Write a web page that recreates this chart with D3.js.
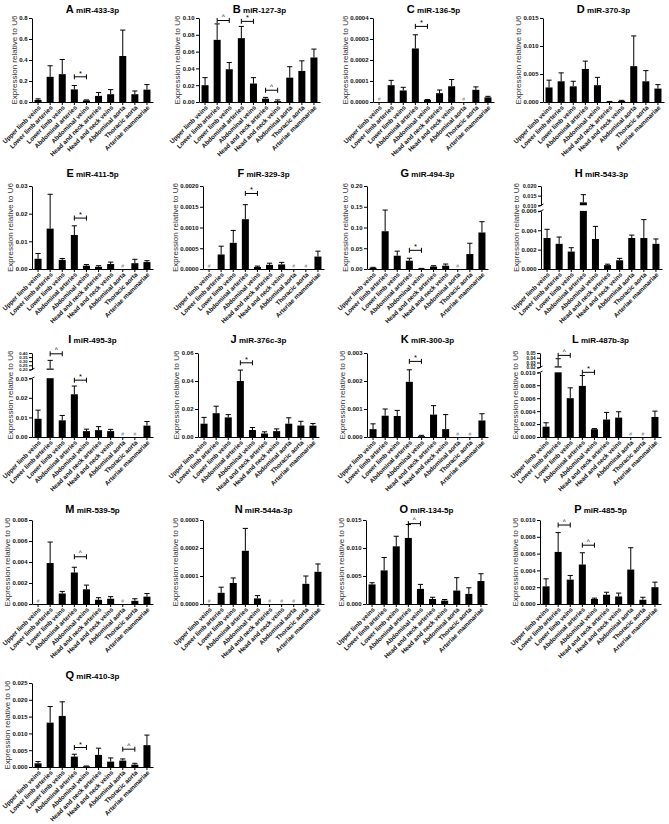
<!DOCTYPE html>
<html><head><meta charset="utf-8">
<script src="https://cdn.jsdelivr.net/npm/d3@7"></script>
<style>body{margin:0;background:#fff;} svg{display:block;}</style>
</head><body><svg id="c" width="669" height="824"></svg>
<script>
// ---------- DATA ----------
const categories = ["Upper limb veins","Lower limb arteries","Lower limb veins","Abdominal arteries","Abdominal veins","Head and neck arteries","Head and neck veins","Abdominal aorta","Thoracic aorta","Arteriae mammariae"];
const letters = ["A","B","C","D","E","F","G","H","I","J","K","L","M","N","O","P","Q"];
const mirnas = ["miR-433-3p","miR-127-3p","miR-136-5p","miR-370-3p","miR-411-5p","miR-329-3p","miR-494-3p","miR-543-3p","miR-495-3p","miR-376c-3p","miR-300-3p","miR-487b-3p","miR-539-5p","miR-544a-3p","miR-134-5p","miR-485-5p","miR-410-3p"];

// null = not detected (#)
const meanA = [0.02,0.24,0.265,0.12,0.015,0.058,0.074,0.438,0.074,0.118];
const errA  = [0.03,0.345,0.405,0.157,0.02,0.09,0.118,0.685,0.105,0.166];
const ticksA = [0,0.2,0.4,0.6,0.8];
const sigA = [[3,4,0.24,"*"]];

const meanB = [0.020,0.074,0.039,0.076,0.022,0.004,0.001,0.029,0.037,0.053];
const errB  = [0.029,0.093,0.047,0.090,0.029,0.0055,0.0025,0.042,0.049,0.063];
const ticksB = [0,0.02,0.04,0.06,0.08,0.10];
const sigB = [[1,2,0.097,"^"],[3,4,0.096,"*"],[5,6,0.014,"^"]];

const meanC = [null,0.00008,0.000055,0.000255,0.00001,0.000042,0.000075,null,0.000058,0.000022];
const errC  = [null,0.000103,0.00007,0.00032,0.000012,0.000057,0.000107,null,0.000072,0.000027];
const ticksC = [0,0.0001,0.0002,0.0003,0.0004];
const sigC = [[3,4,0.00036,"*"]];

const meanD = [0.0026,0.0037,0.0028,0.0059,0.0030,0.00005,0.0002,0.0064,0.0037,0.0024];
const errD  = [0.0039,0.0052,0.0037,0.0073,0.0044,0.0001,0.0003,0.0118,0.0056,0.0031];
const ticksD = [0,0.005,0.010,0.015];
const sigD = [];

const meanE = [0.0037,0.0146,0.0033,0.0123,0.0012,0.0008,0.0018,null,0.0021,0.0025];
const errE  = [0.0056,0.027,0.0038,0.0156,0.0016,0.0012,0.0025,null,0.0035,0.003];
const ticksE = [0,0.01,0.02,0.03];
const sigE = [[3,4,0.0184,"*"]];

const meanF = [null,0.00035,0.00063,0.0012,0.00005,0.0001,0.00011,null,null,0.0003];
const errF  = [null,0.00055,0.00093,0.00155,0.00007,0.00014,0.00016,null,null,0.00043];
const ticksF = [0,0.0005,0.0010,0.0015,0.0020];
const sigF = [[3,4,0.00182,"*"]];

const meanG = [0.003,0.091,0.032,0.020,0.001,0.006,0.008,null,0.036,0.088];
const errG  = [0.004,0.142,0.043,0.026,0.0015,0.008,0.012,null,0.062,0.114];
const ticksG = [0,0.05,0.10,0.15,0.20];
const sigG = [[3,4,0.045,"*"]];

const meanH = [0.0032,0.0026,0.0018,0.0115,0.0031,0.0004,0.0009,0.0032,0.0032,0.0026];
const errH  = [0.0041,0.0033,0.0022,0.0155,0.0044,0.0005,0.0011,0.0035,0.0051,0.0031];
const ticksH = [0,0.002,0.004,0.006];
const ticksHUpper = [0.010,0.015,0.020];
const breakH = [0.006,0.010,0.020];
const sigH = [];

const meanI = [0.0093,0.21,0.0085,0.0218,0.003,0.0035,0.003,null,null,0.0058];
const errI  = [0.0137,0.31,0.011,0.026,0.004,0.0053,0.0039,null,null,0.0079];
const ticksI = [0,0.01,0.02,0.03];
const ticksIUpper = [0.20,0.25,0.30,0.35,0.40];
const breakI = [0.03,0.20,0.40];
const sigI = [[1,2,0.39,"^"],[3,4,0.029,"*"]];

const meanJ = [0.0095,0.017,0.014,0.040,0.005,0.0025,0.0042,0.0095,0.0082,0.0081];
const errJ  = [0.014,0.022,0.016,0.0478,0.0068,0.0037,0.0058,0.0137,0.0112,0.0096];
const ticksJ = [0,0.02,0.04,0.06];
const sigJ = [[3,4,0.053,"*"]];

const meanK = [0.00028,0.00076,0.00075,0.00197,0.00003,0.0008,0.00028,null,null,0.00059];
const errK  = [0.00047,0.001,0.00095,0.0024,0.00006,0.00112,0.0008,null,null,0.00083];
const ticksK = [0,0.001,0.002,0.003];
const sigK = [[3,4,0.0027,"*"]];

const meanL = [0.0016,0.022,0.0060,0.0079,0.0012,0.0027,0.0030,null,null,0.0031];
const errL  = [0.0022,0.038,0.0076,0.0095,0.0013,0.0038,0.0039,null,null,0.0040];
const ticksL = [0,0.002,0.004,0.006,0.008,0.010];
const ticksLUpper = [0.02,0.03,0.04,0.05];
const breakL = [0.010,0.02,0.05];
const sigL = [[1,2,0.045,"^"],[3,4,0.0100,"*"]];

const meanM = [null,0.0039,0.001,0.003,0.0014,0.0004,0.0005,null,0.0003,0.0007];
const errM  = [null,0.0059,0.0012,0.0035,0.0018,0.0006,0.0007,null,0.0005,0.001];
const ticksM = [0,0.002,0.004,0.006,0.008];
const sigM = [[3,4,0.0045,"^"]];

const meanN = [null,0.00004,0.000075,0.00019,0.00002,null,null,null,0.000072,0.000115];
const errN  = [null,0.00006,0.000093,0.00027,0.00003,null,null,null,0.0001,0.000143];
const ticksN = [0,0.0001,0.0002,0.0003];
const sigN = [];

const meanO = [0.0035,0.006,0.0103,0.0118,0.0027,0.0009,0.0006,0.0024,0.0018,0.0041];
const errO  = [0.0038,0.0083,0.0121,0.0142,0.0035,0.0012,0.0008,0.0047,0.0029,0.0054];
const ticksO = [0,0.005,0.010,0.015];
const sigO = [[3,4,0.01435,"^"]];

const meanP = [0.0021,0.0062,0.0029,0.0047,0.0006,0.0011,0.0009,0.0041,0.0005,0.002];
const errP  = [0.003,0.0085,0.0034,0.0061,0.0007,0.0014,0.0013,0.0067,0.0008,0.0026];
const ticksP = [0,0.002,0.004,0.006,0.008,0.010];
const sigP = [[1,2,0.0094,"^"],[3,4,0.007,"^"]];

const meanQ = [0.0011,0.0132,0.0152,0.0031,0.0002,0.0036,0.0016,0.0019,0.0007,0.0065];
const errQ  = [0.0016,0.018,0.0194,0.0038,0.0003,0.0056,0.0027,0.0024,0.0011,0.0095];
const ticksQ = [0,0.005,0.010,0.015,0.020,0.025];
const sigQ = [[3,4,0.0058,"*"],[7,8,0.0053,"^"]];

const panels = [
  {mean:meanA, err:errA, ticks:ticksA, dec:1, sig:sigA},
  {mean:meanB, err:errB, ticks:ticksB, dec:2, sig:sigB},
  {mean:meanC, err:errC, ticks:ticksC, dec:4, sig:sigC},
  {mean:meanD, err:errD, ticks:ticksD, dec:3, sig:sigD},
  {mean:meanE, err:errE, ticks:ticksE, dec:2, sig:sigE},
  {mean:meanF, err:errF, ticks:ticksF, dec:4, sig:sigF},
  {mean:meanG, err:errG, ticks:ticksG, dec:2, sig:sigG},
  {mean:meanH, err:errH, ticks:ticksH, dec:3, sig:sigH, brk:breakH, upTicks:ticksHUpper, upDec:3, upFont:5.5},
  {mean:meanI, err:errI, ticks:ticksI, dec:2, sig:sigI, brk:breakI, upTicks:ticksIUpper, upDec:2, upFont:4.2},
  {mean:meanJ, err:errJ, ticks:ticksJ, dec:2, sig:sigJ},
  {mean:meanK, err:errK, ticks:ticksK, dec:3, sig:sigK},
  {mean:meanL, err:errL, ticks:ticksL, dec:3, sig:sigL, brk:breakL, upTicks:ticksLUpper, upDec:2, upFont:4.6},
  {mean:meanM, err:errM, ticks:ticksM, dec:3, sig:sigM},
  {mean:meanN, err:errN, ticks:ticksN, dec:4, sig:sigN},
  {mean:meanO, err:errO, ticks:ticksO, dec:3, sig:sigO},
  {mean:meanP, err:errP, ticks:ticksP, dec:3, sig:sigP},
  {mean:meanQ, err:errQ, ticks:ticksQ, dec:3, sig:sigQ}
];

// ---------- LAYOUT ----------
const rowTop  = [18, 186, 353, 520, 683];
const rowBase = [102, 269, 437, 604, 767];
const titleBase = [13, 177, 343, 513, 679];
const axisXs = [32,199,373,543, 32,203,367,541, 32,198,367,540, 32,203,366,540, 32];
const breakLayout = {H:{low:0.70,gap:0.068}, I:{low:0.70,gap:0.105}, L:{low:0.77,gap:0.06}};
const PLOT_W = 121;
const FONT = '"Liberation Sans", Arial, Helvetica, sans-serif';

const svg = d3.select("#c").style("font-family", FONT);

panels.forEach((p, k) => {
  const row = Math.floor(k / 4);
  const top = rowTop[row], base = rowBase[row];
  const x0 = axisXs[k], x1 = x0 + PLOT_W;
  const g = svg.append("g");
  const x = d3.scaleBand().domain(d3.range(categories.length)).range([x0, x1]).paddingInner(0.42).paddingOuter(0.21);
  const cx = i => x(i) + x.bandwidth() / 2;

  let Y, sL, sU = null, lowTop = null, upBot = null;
  if (!p.brk) {
    sL = d3.scaleLinear().domain([0, p.ticks[p.ticks.length - 1]]).range([base, top]);
    Y = v => sL(v);
  } else {
    const bl = breakLayout[letters[k]];
    const H = base - top;
    lowTop = base - H * bl.low;
    upBot = lowTop - H * bl.gap;
    sL = d3.scaleLinear().domain([0, p.brk[0]]).range([base, lowTop]);
    sU = d3.scaleLinear().domain([p.brk[1], p.brk[2]]).range([upBot, top]);
    Y = v => v <= p.brk[0] ? sL(v) : (v >= p.brk[1] ? sU(v) : (lowTop + upBot) / 2);
  }

  // bars
  p.mean.forEach((m, i) => {
    if (m === null) {
      g.append("text").attr("x", cx(i)).attr("y", base - 1.5).attr("text-anchor", "middle")
        .attr("font-size", 5).attr("fill", "#888").text("#");
      return;
    }
    const w = x.bandwidth();
    if (p.brk && m > p.brk[0]) {
      g.append("rect").attr("x", x(i)).attr("width", w).attr("y", lowTop).attr("height", base - lowTop).attr("fill", "#000");
      g.append("rect").attr("x", x(i)).attr("width", w).attr("y", Y(m)).attr("height", Math.max(1.2, upBot - Y(m))).attr("fill", "#000");
    } else {
      g.append("rect").attr("x", x(i)).attr("width", w).attr("y", Y(m)).attr("height", Math.max(0.6, base - Y(m))).attr("fill", "#000");
    }
    const e = p.err[i];
    if (e !== null && e > m) {
      g.append("line").attr("x1", cx(i)).attr("x2", cx(i)).attr("y1", Y(m)).attr("y2", Y(e)).attr("stroke", "#000").attr("stroke-width", 1);
      g.append("line").attr("x1", cx(i) - 2.6).attr("x2", cx(i) + 2.6).attr("y1", Y(e)).attr("y2", Y(e)).attr("stroke", "#000").attr("stroke-width", 1);
    }
  });

  // y axis
  const styleAxis = (sel, fs) => {
    sel.selectAll("path, line").attr("stroke", "#000").attr("stroke-width", 1);
    sel.selectAll("text").attr("font-size", fs || 6).attr("font-weight", "bold").attr("fill", "#111").attr("font-family", FONT);
  };
  const yg = g.append("g").attr("transform", `translate(${x0},0)`)
    .call(d3.axisLeft(sL).tickValues(p.ticks).tickFormat(d3.format(`.${p.dec}f`)).tickSize(3).tickSizeOuter(0).tickPadding(1.5))
    .call(styleAxis);
  let tickSel = yg.selectAll(".tick text").nodes();
  if (p.brk) {
    const yu = g.append("g").attr("transform", `translate(${x0},0)`)
      .call(d3.axisLeft(sU).tickValues(p.upTicks).tickFormat(d3.format(`.${p.upDec}f`)).tickSize(3).tickSizeOuter(0).tickPadding(1.5))
      .call(styleAxis, p.upFont);
    tickSel = tickSel.concat(yu.selectAll(".tick text").nodes());
    // break marks
    [lowTop, upBot].forEach(yy => {
      g.append("line").attr("x1", x0 - 2.5).attr("x2", x0 + 2.5).attr("y1", yy + 1.2).attr("y2", yy - 1.2)
        .attr("stroke", "#000").attr("stroke-width", 0.9);
    });
  }
  const maxW = d3.max(tickSel, n => n.getComputedTextLength());

  // x axis
  g.append("g").attr("transform", `translate(0,${base})`)
    .call(d3.axisBottom(x).tickSize(3).tickSizeOuter(0).tickFormat(""))
    .call(styleAxis);
  categories.forEach((c, i) => {
    g.append("text").attr("transform", `translate(${cx(i) + 1.5},${base + 4.5}) rotate(-45)`)
      .attr("text-anchor", "end").attr("dy", "0.35em").attr("font-size", 6.3).attr("font-weight", "bold")
      .attr("fill", "#111").text(c);
  });

  // significance brackets
  p.sig.forEach(([a, b, v, sym]) => {
    const yy = Y(v), xa = cx(a), xb = cx(b);
    g.append("line").attr("x1", xa).attr("x2", xb).attr("y1", yy).attr("y2", yy).attr("stroke", "#000").attr("stroke-width", 1);
    [xa, xb].forEach(xx => g.append("line").attr("x1", xx).attr("x2", xx).attr("y1", yy - 2.5).attr("y2", yy + 2.5).attr("stroke", "#000").attr("stroke-width", 1));
    g.append("text").attr("x", (xa + xb) / 2).attr("y", yy - (sym === "^" ? 1.5 : 1)).attr("text-anchor", "middle")
      .attr("font-size", sym === "^" ? 6.5 : 7.5).attr("fill", "#000").text(sym);
  });

  // title
  const t = g.append("text").attr("x", x0 + PLOT_W / 2).attr("y", titleBase[row]).attr("text-anchor", "middle").attr("font-weight", "bold").attr("fill", "#000");
  t.append("tspan").attr("font-size", 11).text(letters[k]);
  t.append("tspan").attr("font-size", 8).text(" " + mirnas[k]);

  // y label
  const lx = x0 - 3 - 1.5 - maxW - 2.5;
  g.append("text").attr("transform", `translate(${lx},${(top + base) / 2}) rotate(-90)`)
    .attr("text-anchor", "middle").attr("font-size", 8).attr("fill", "#333").text("Expression relative to U6");
});
</script></body></html>
